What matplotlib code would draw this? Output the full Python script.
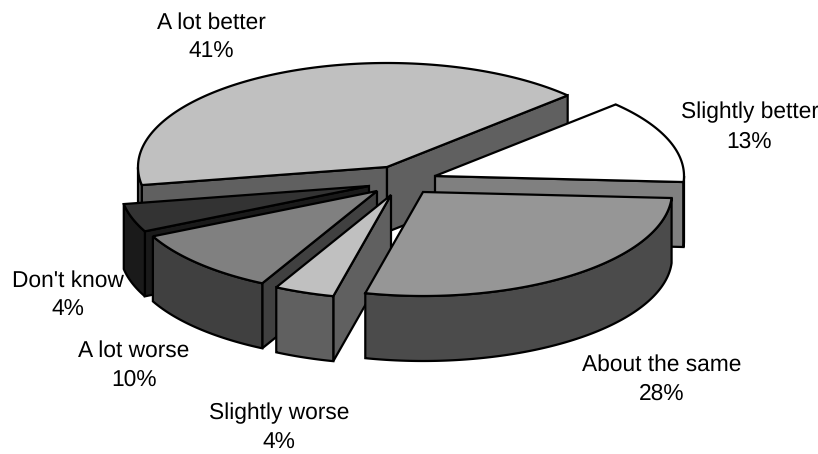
import numpy as np
import matplotlib
matplotlib.use("Agg")
import matplotlib.pyplot as plt
from matplotlib.patches import Polygon

plt.rcParams['font.family'] = ['Liberation Sans', 'DejaVu Sans']
plt.rcParams['text.hinting'] = 'none'

# survey answers, in the order they go round the pie
categories = ["A lot better", "Slightly better", "About the same",
              "Slightly worse", "A lot worse", "Don't know"]
# shares, the labels show them rounded
percent = [40.7, 13.0, 27.8, 3.9, 10.2, 4.4]

# colours for the top of each slice and for its side
top_colors = ["#c0c0c0", "#ffffff", "#969696", "#c0c0c0", "#808080", "#333333"]
side_colors = ["#606060", "#808080", "#4b4b4b", "#606060", "#404040", "#1a1a1a"]

# where the tip of each slice sits, pixels (exploded pie)
tips = [(387, 167), (435, 176), (423, 192), (391, 195), (377, 191), (369, 186)]
# label centre x and baseline of the percent line, pixels
label_pos = [(211.5, 58), (749.5, 148), (662, 400), (279, 449), (134, 386), (67.5, 316)]

rx, ry = 249, 104   # ellipse of the tilted pie
depth = 65
start = 190         # first slice starts here, goes clockwise
draw_order = [0, 1, 5, 4, 3, 2]  # back to front

fig = plt.figure(figsize=(8.18, 4.54), dpi=100)
ax = fig.add_axes([0, 0, 1, 1])
ax.set_xlim(0, 818)
ax.set_ylim(454, 0)
ax.axis("off")


def face(points, color):
    ax.add_patch(Polygon(points, closed=True, facecolor=color, edgecolor="black",
                         linewidth=1.6, joinstyle="miter"))


def rim(cx, cy, t):
    return np.column_stack([cx + rx * np.cos(t), cy - ry * np.sin(t)])


def drop(points):
    return points + np.array([0, depth])


angles = start - 3.6 * np.cumsum([0] + percent)

for i in draw_order:
    cx, cy = tips[i]
    a0, a1 = np.radians(angles[i]), np.radians(angles[i + 1])
    t = np.linspace(a0, a1, 300)
    arc = rim(cx, cy, t)
    tip = np.array([[cx, cy]])

    # cut faces, only those turned to the viewer
    if np.cos(a0) < 0:
        edge = np.vstack([tip, arc[:1]])
        face(np.vstack([edge, drop(edge)[::-1]]), side_colors[i])
    if np.cos(a1) > 0:
        edge = np.vstack([tip, arc[-1:]])
        face(np.vstack([edge, drop(edge)[::-1]]), side_colors[i])

    # outer wall, front half of the ellipse only
    front = arc[np.sin(t) <= 0]
    if len(front) > 1:
        face(np.vstack([front, drop(front)[::-1]]), side_colors[i])

    # top
    face(np.vstack([tip, arc]), top_colors[i])

for name, val, pos in zip(categories, percent, label_pos):
    ax.text(pos[0], pos[1], f"{name}\n{val:.0f}%", ha="center", va="baseline",
            multialignment="center", fontsize=16.4, linespacing=1.47, color="black")

fig.savefig("out.png", dpi=100, facecolor="white")
